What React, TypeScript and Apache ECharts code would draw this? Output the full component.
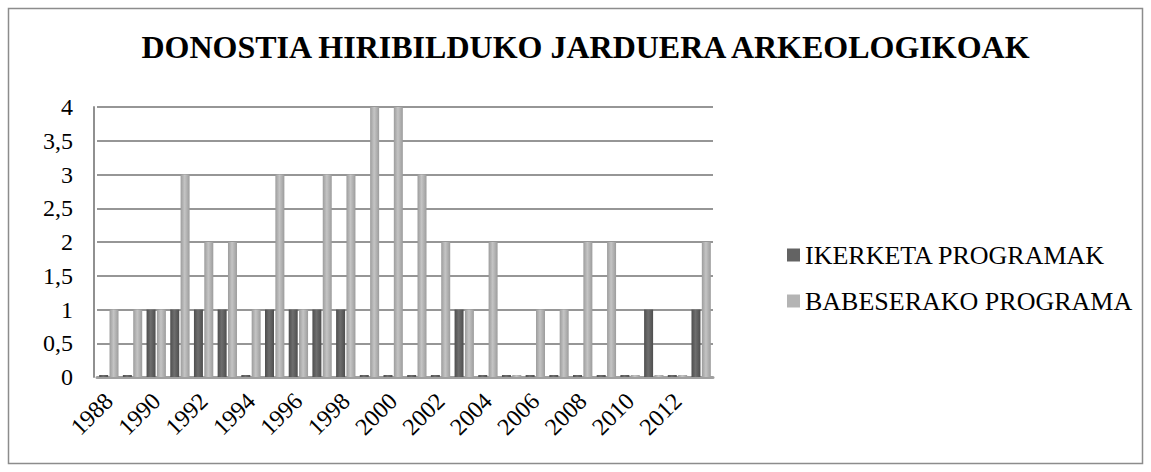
import React, { useEffect, useRef } from "react";
import * as echarts from "echarts";

const TITLE = "DONOSTIA HIRIBILDUKO JARDUERA ARKEOLOGIKOAK";
const years = [
  "1988", "1989", "1990", "1991", "1992", "1993", "1994", "1995", "1996",
  "1997", "1998", "1999", "2000", "2001", "2002", "2003", "2004", "2005",
  "2006", "2007", "2008", "2009", "2010", "2011", "2012", "2013",
];
const ikerketa = [0, 0, 1, 1, 1, 1, 0, 1, 1, 1, 1, 0, 0, 0, 0, 1, 0, 0, 0, 0, 0, 0, 0, 1, 0, 1];
const babeserako = [1, 1, 1, 3, 2, 2, 1, 3, 1, 3, 3, 4, 4, 3, 2, 1, 2, 0, 1, 1, 2, 2, 0, 0, 0, 2];
const seriesNames = ["IKERKETA PROGRAMAK", "BABESERAKO PROGRAMA"];

const FONT = "Liberation Serif, Times New Roman, serif";

function grad(edge: string, mid: string) {
  return new echarts.graphic.LinearGradient(0, 0, 1, 0, [
    { offset: 0, color: edge },
    { offset: 0.45, color: mid },
    { offset: 1, color: edge },
  ]);
}

export default function App() {
  const ref = useRef<HTMLDivElement>(null);
  useEffect(() => {
    if (!ref.current) return;
    const chart = echarts.init(ref.current, null, { renderer: "svg" });
    chart.setOption({
      animation: false,
      backgroundColor: "#ffffff",
      textStyle: { fontFamily: FONT },
      graphic: [
        {
          type: "rect",
          shape: { x: 8.5, y: 8.5, width: 1134, height: 455 },
          style: { fill: "none", stroke: "#8c8c8c", lineWidth: 1.5 },
          silent: true,
        },
        {
          type: "text",
          x: 585.5,
          y: 47,
          style: {
            text: TITLE,
            fontFamily: FONT,
            fontWeight: "bold",
            fontSize: 32,
            fill: "#000",
            textAlign: "center",
            textVerticalAlign: "middle",
          },
        },
      ],
      legend: {
        orient: "vertical",
        left: 782,
        top: 235,
        itemWidth: 13,
        itemHeight: 13,
        itemGap: 16,
        icon: "rect",
        textStyle: { fontFamily: FONT, fontSize: 26, lineHeight: 30, color: "#000" },
        data: [
          { name: seriesNames[0], itemStyle: { color: "#636363" } },
          { name: seriesNames[1], itemStyle: { color: "#b4b4b4" } },
        ],
      },
      grid: { left: 97, top: 107, width: 616, height: 270, containLabel: false },
      xAxis: {
        type: "category",
        data: years,
        axisLine: { show: true, lineStyle: { color: "#a0a0a0", width: 3 } },
        axisTick: { show: false },
        axisLabel: {
          interval: 1,
          rotate: 45,
          margin: 20,
          fontFamily: FONT,
          fontSize: 24,
          color: "#000",
        },
      },
      yAxis: {
        type: "value",
        min: 0,
        max: 4,
        interval: 0.5,
        offset: 3,
        axisLine: { show: true, lineStyle: { color: "#909090", width: 2 } },
        axisTick: { show: false },
        splitLine: { lineStyle: { color: "#969696", width: 2 } },
        axisLabel: {
          margin: 21,
          fontFamily: FONT,
          fontSize: 24,
          color: "#000",
          padding: [10, 0, 0, 0],
          formatter: (v: number) => String(v).replace(".", ","),
        },
      },
      series: [
        {
          name: seriesNames[0],
          type: "bar",
          data: ikerketa,
          barWidth: 9,
          barGap: "15%",
          barMinHeight: 2,
          itemStyle: { color: grad("#4e4e4e", "#6e6e6e") },
        },
        {
          name: seriesNames[1],
          type: "bar",
          data: babeserako,
          barWidth: 9,
          barMinHeight: 2,
          itemStyle: { color: grad("#9c9c9c", "#c4c4c4") },
        },
      ],
    });
    return () => chart.dispose();
  }, []);
  return (
    <div
      ref={ref}
      style={{ position: "fixed", left: 0, top: 0, width: 1151, height: 472 }}
    />
  );
}
